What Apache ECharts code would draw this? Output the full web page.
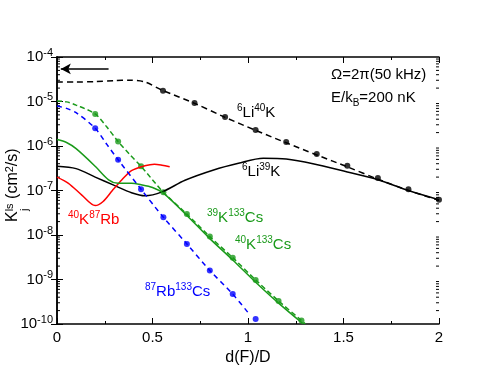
<!DOCTYPE html>
<html>
<head>
<meta charset="utf-8">
<script src="https://cdn.jsdelivr.net/npm/echarts@6/dist/echarts.min.js"></script>
<style>
  html, body { margin: 0; padding: 0; background: #fff; }
  #main { width: 494px; height: 382px; }
</style>
</head>
<body>
<div id="main"></div>
<script>
// 6Li40K, dashed curve + points
const li40kX = [0, 0.1, 0.2, 0.3, 0.38, 0.46, 0.55, 0.72, 0.88, 1.04, 1.2, 1.36, 1.52, 1.68, 1.84, 2.0];
const li40kY = [2.75e-5, 2.75e-5, 2.8e-5, 2.95e-5, 3.0e-5, 2.75e-5, 1.8e-5, 9.1e-6, 4.4e-6, 2.25e-6, 1.18e-6, 6.3e-7, 3.4e-7, 1.8e-7, 1.0e-7, 6.0e-8];
const li40kDotX = [0.555, 0.72, 0.88, 1.04, 1.2, 1.36, 1.52, 1.68, 1.84, 2.0];
const li40kDotY = [1.75e-5, 9.3e-6, 4.5e-6, 2.3e-6, 1.23e-6, 6.6e-7, 3.6e-7, 1.9e-7, 1.07e-7, 6.2e-8];

// 6Li39K, solid
const li39kX = [0, 0.1, 0.2, 0.3, 0.39, 0.46, 0.55, 0.67, 0.82, 0.95, 1.08, 1.2, 1.34, 1.52, 1.68, 1.84, 2.0];
const li39kY = [3.5e-7, 3.1e-7, 2.0e-7, 1.3e-7, 8.9e-8, 7.6e-8, 9.3e-8, 1.7e-7, 2.9e-7, 4.1e-7, 5.3e-7, 5.1e-7, 4.0e-7, 2.6e-7, 1.75e-7, 1.0e-7, 6.2e-8];

// 40K87Rb, solid red
const k87rbX = [0, 0.06, 0.13, 0.2, 0.24, 0.29, 0.34, 0.39, 0.46, 0.51, 0.55, 0.59];
const k87rbY = [2.0e-7, 1.45e-7, 7.9e-8, 4.6e-8, 5.6e-8, 1.0e-7, 1.74e-7, 2.8e-7, 3.6e-7, 3.9e-7, 3.7e-7, 3.4e-7];

// K133Cs, green dashed + points
const kcsDashX = [0, 0.05, 0.1, 0.2, 0.26, 0.32, 0.38, 0.44, 0.557, 0.68, 0.8, 0.92, 1.04, 1.16, 1.28, 1.3];
const kcsDashY = [1.02e-5, 9.8e-6, 8.3e-6, 5.25e-6, 2.7e-6, 1.26e-6, 6.5e-7, 3.5e-7, 9.1e-8, 2.95e-8, 9.2e-9, 3.1e-9, 9.8e-10, 3.3e-10, 1.2e-10, 1.0e-10];
const kcsDotX = [0.2, 0.32, 0.44, 0.557, 0.68, 0.8, 0.92, 1.04, 1.16, 1.28];
const kcsDotY = [5.25e-6, 1.26e-6, 3.5e-7, 9.1e-8, 2.95e-8, 9.2e-9, 3.1e-9, 9.8e-10, 3.3e-10, 1.2e-10];

// K133Cs, green solid
const kcsSolidX = [0, 0.05, 0.1, 0.2, 0.27, 0.32, 0.39, 0.44, 0.5, 0.557, 0.68, 0.8, 0.92, 1.04, 1.16, 1.29];
const kcsSolidY = [1.4e-6, 1.2e-6, 8.7e-7, 3.5e-7, 1.74e-7, 1.45e-7, 1.45e-7, 1.35e-7, 1.17e-7, 8.7e-8, 2.75e-8, 8.3e-9, 2.75e-9, 8.7e-10, 2.95e-10, 1.0e-10];

// 87Rb133Cs, blue dashed + points
const rbcsX = [0, 0.05, 0.1, 0.2, 0.26, 0.32, 0.44, 0.557, 0.68, 0.8, 0.92, 1.01];
const rbcsY = [7.9e-6, 7.0e-6, 5.6e-6, 2.5e-6, 1.1e-6, 4.9e-7, 1.07e-7, 2.5e-8, 6.3e-9, 1.6e-9, 4.7e-10, 1.6e-10];
const rbcsDotX = [0.2, 0.32, 0.44, 0.557, 0.68, 0.8, 0.92, 1.04];
const rbcsDotY = [2.5e-6, 4.9e-7, 1.07e-7, 2.5e-8, 6.3e-9, 1.6e-9, 4.7e-10, 1.3e-10];

// arrow at the top left
const arrowX = [0.27, 0.02];
const arrowY = 5.4e-5;

// axis ranges
const xMin = 0, xMax = 2, xStep = 0.5;
const yMin = 1e-10, yMax = 1e-4;

const FONT = '"Liberation Sans", Arial, sans-serif';
const GREEN = '#1a9a1a';

const pairs = (xs, ys) => xs.map((x, i) => [x, ys[i]]);

// minor ticks of the log axis (2..9 in every decade)
const minorVals = [];
for (let e = -10; e < -4; e++) {
  for (let m = 2; m <= 9; m++) minorVals.push([0, m * Math.pow(10, e)]);
}

const chart = echarts.init(document.getElementById('main'), null, { renderer: 'canvas' });

const annRich = (color) => ({
  n: { fontSize: 15, lineHeight: 20, fill: color, fontFamily: FONT },
  s: { fontSize: 10, lineHeight: 10, verticalAlign: 'top', fill: color, fontFamily: FONT },
  b: { fontSize: 10, lineHeight: 10, verticalAlign: 'bottom', fill: color, fontFamily: FONT }
});

const annText = (x, y, text, color) => ({
  type: 'text', x: x, y: y,
  style: { text: text, rich: annRich(color), align: 'left', verticalAlign: 'top' }
});

const xAxisBase = {
  type: 'value', min: xMin, max: xMax, interval: xStep,
  axisLine: { lineStyle: { color: '#000', width: 1.5 } },
  axisTick: { inside: true, length: 6, lineStyle: { color: '#000', width: 1 } },
  minorTick: { show: true, splitNumber: 2, length: 3, lineStyle: { color: '#000', width: 1 } },
  splitLine: { show: false }
};

const yAxisBase = {
  type: 'log', logBase: 10, min: yMin, max: yMax,
  axisLine: { lineStyle: { color: '#000', width: 1.5 } },
  axisTick: { inside: true, length: 6, lineStyle: { color: '#000', width: 1 } },
  splitLine: { show: false }
};

const option = {
  animation: false,
  backgroundColor: '#fff',
  grid: { left: 57, right: 55, top: 57, bottom: 58 },
  xAxis: [
    Object.assign({}, xAxisBase, {
      position: 'bottom',
      axisLabel: { color: '#000', fontSize: 15, fontFamily: FONT, margin: 6 },
      name: 'd(F)/D', nameLocation: 'middle', nameGap: 22,
      nameTextStyle: { color: '#000', fontSize: 16, fontFamily: FONT }
    }),
    Object.assign({}, xAxisBase, { position: 'top', axisLabel: { show: false } })
  ],
  yAxis: [
    Object.assign({}, yAxisBase, {
      position: 'left',
      axisLabel: {
        margin: 4,
        formatter: (v) => '{b|10}{s|' + Math.round(Math.log10(v)) + '}',
        rich: {
          b: { color: '#000', fontSize: 15, lineHeight: 20, fontFamily: FONT },
          s: { color: '#000', fontSize: 11, lineHeight: 11, verticalAlign: 'top', fontFamily: FONT }
        }
      }
    }),
    Object.assign({}, yAxisBase, { position: 'right', axisLabel: { show: false } })
  ],
  graphic: [
    annText(237, 103, '{s|6}{n|Li}{s|40}{n|K}', '#000'),
    annText(242, 162, '{s|6}{n|Li}{s|39}{n|K}', '#000'),
    annText(68, 210, '{s|40}{n|K}{s|87}{n|Rb}', '#ff0000'),
    annText(207, 208, '{s|39}{n|K}{s|133}{n|Cs}', GREEN),
    annText(235, 235, '{s|40}{n|K}{s|133}{n|Cs}', GREEN),
    annText(145, 282, '{s|87}{n|Rb}{s|133}{n|Cs}', '#0000ff'),
    annText(331, 65, '{n|\u03a9=2\u03c0(50 kHz)}', '#000'),
    annText(331, 88, '{n|E/k}{b|B}{n|=200 nK}', '#000'),
    {
      type: 'group', x: 22, y: 187, rotation: Math.PI / 2,
      children: [
        {
          type: 'text', x: -35, y: 0,
          style: {
            text: '{k|K}{s|ls}{n| (cm}{s|2}{n|/s)}', align: 'left', verticalAlign: 'bottom',
            rich: {
              k: { fontSize: 16, lineHeight: 18, fill: '#000', fontFamily: FONT },
              n: { fontSize: 16, lineHeight: 18, fill: '#000', fontFamily: FONT },
              s: { fontSize: 11, lineHeight: 11, verticalAlign: 'top', fill: '#000', fontFamily: FONT }
            }
          }
        },
        {
          type: 'text', x: -24, y: 3,
          style: { text: 'j', fontSize: 11, fontFamily: FONT, fill: '#000', align: 'left', verticalAlign: 'middle' }
        }
      ]
    }
  ],
  series: [
    {
      name: '6Li40K', type: 'line', data: pairs(li40kX, li40kY), smooth: 0.3,
      showSymbol: false, lineStyle: { color: '#000', width: 1.5, type: [6, 4] },
      markLine: {
        silent: true, symbol: ['none', 'arrow'], symbolSize: [8, 10],
        label: { show: false },
        lineStyle: { color: '#000', type: 'solid', width: 1.5 },
        data: [[{ coord: [arrowX[0], arrowY] }, { coord: [arrowX[1], arrowY] }]]
      }
    },
    {
      name: '6Li40K pts', type: 'scatter', data: pairs(li40kDotX, li40kDotY),
      symbol: 'circle', symbolSize: 6, itemStyle: { color: '#000' }
    },
    {
      name: '6Li39K', type: 'line', data: pairs(li39kX, li39kY), smooth: 0.3,
      showSymbol: false, lineStyle: { color: '#000', width: 1.5 }
    },
    {
      name: '40K87Rb', type: 'line', data: pairs(k87rbX, k87rbY), smooth: 0.3,
      showSymbol: false, lineStyle: { color: '#ff0000', width: 1.5 }
    },
    {
      name: 'K133Cs dashed', type: 'line', data: pairs(kcsDashX, kcsDashY), smooth: 0.3,
      showSymbol: false, lineStyle: { color: GREEN, width: 1.5, type: [5, 3] }
    },
    {
      name: 'K133Cs solid', type: 'line', data: pairs(kcsSolidX, kcsSolidY), smooth: 0.3,
      showSymbol: false, lineStyle: { color: GREEN, width: 1.5 }
    },
    {
      name: 'K133Cs pts', type: 'scatter', data: pairs(kcsDotX, kcsDotY),
      symbol: 'circle', symbolSize: 6, itemStyle: { color: GREEN }
    },
    {
      name: '87Rb133Cs', type: 'line', data: pairs(rbcsX, rbcsY), smooth: 0.3,
      showSymbol: false, lineStyle: { color: '#0000ff', width: 1.5, type: [5, 4] }
    },
    {
      name: '87Rb133Cs pts', type: 'scatter', data: pairs(rbcsDotX, rbcsDotY),
      symbol: 'circle', symbolSize: 6, itemStyle: { color: '#0000ff' }
    },
    {
      name: 'minor ticks', type: 'custom', data: minorVals, silent: true,
      renderItem: (params, api) => {
        const v = api.value(1);
        const l = api.coord([xMin, v]);
        const r = api.coord([xMax, v]);
        return {
          type: 'group',
          children: [
            { type: 'line', shape: { x1: l[0], y1: l[1], x2: l[0] + 3, y2: l[1] }, style: { stroke: '#000', lineWidth: 1 } },
            { type: 'line', shape: { x1: r[0] - 3, y1: r[1], x2: r[0], y2: r[1] }, style: { stroke: '#000', lineWidth: 1 } }
          ]
        };
      }
    }
  ]
};

chart.setOption(option);
</script>
</body>
</html>
